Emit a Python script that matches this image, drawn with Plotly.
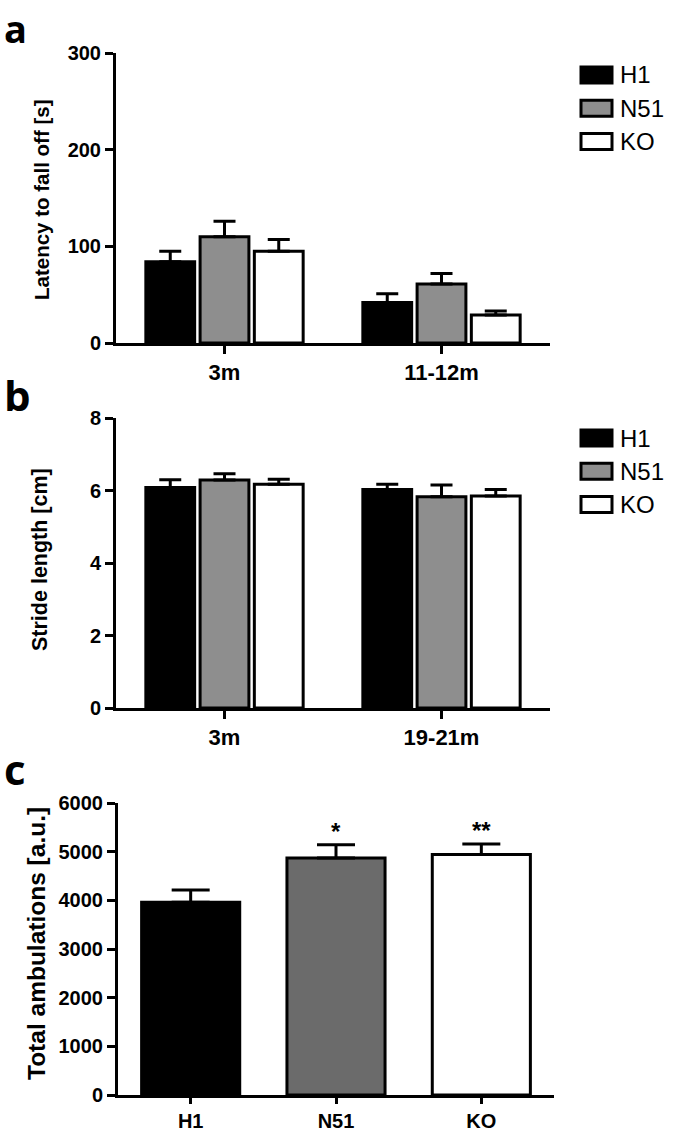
import plotly.graph_objects as go

W, H = 675, 1131

# ---------------- data ----------------
groups = ["H1", "N51", "KO"]

cats_a = ["3m", "11-12m"]
a_vals = {"H1": [84, 42], "N51": [110, 61], "KO": [95, 29]}
a_err = {"H1": [11, 9], "N51": [16, 11], "KO": [12, 4]}

cats_b = ["3m", "19-21m"]
b_vals = {"H1": [6.08, 6.03], "N51": [6.29, 5.83], "KO": [6.17, 5.85]}
b_err = {"H1": [0.22, 0.14], "N51": [0.17, 0.32], "KO": [0.14, 0.18]}

cats_c = ["H1", "N51", "KO"]
c_vals = [3960, 4870, 4940]
c_err = [250, 270, 220]
c_stars = ["", "*", "**"]

colors_ab = {"H1": "#000000", "N51": "#8e8e8e", "KO": "#ffffff"}
colors_c = ["#000000", "#6b6b6b", "#ffffff"]

FONT = "Liberation Sans, Arial, sans-serif"


def px(x):
    return x / W


def py(y):
    return 1 - y / H


fig = go.Figure()

for g in groups:
    fig.add_trace(go.Bar(
        x=cats_a, y=a_vals[g], name=g, xaxis="x", yaxis="y",
        marker=dict(color=colors_ab[g], line=dict(color="black", width=3)),
        error_y=dict(type="data", array=a_err[g], arrayminus=[0] * len(cats_a),
                     symmetric=False, color="black", thickness=3, width=11),
        showlegend=False,
    ))
for g in groups:
    fig.add_trace(go.Bar(
        x=cats_b, y=b_vals[g], name=g, xaxis="x2", yaxis="y2",
        marker=dict(color=colors_ab[g], line=dict(color="black", width=3)),
        error_y=dict(type="data", array=b_err[g], arrayminus=[0] * len(cats_b),
                     symmetric=False, color="black", thickness=3, width=11),
        showlegend=False,
    ))
fig.add_trace(go.Bar(
    x=cats_c, y=c_vals, xaxis="x3", yaxis="y3",
    marker=dict(color=colors_c, line=dict(color="black", width=3)),
    error_y=dict(type="data", array=c_err, arrayminus=[0] * len(cats_c),
                 symmetric=False, color="black", thickness=3, width=19),
    showlegend=False,
))

axis_common = dict(showline=True, linewidth=3, linecolor="black", ticks="outside",
                   tickwidth=3, tickcolor="black", showgrid=False,
                   zeroline=False, mirror=False, automargin=False)
xfont = dict(family=FONT, size=22, color="black", weight="bold")
yfont = dict(family=FONT, size=20, color="black", weight="bold")

fig.update_layout(
    width=W, height=H,
    margin=dict(l=0, r=0, t=0, b=0, pad=0, autoexpand=False),
    paper_bgcolor="white", plot_bgcolor="white",
    barmode="group", bargap=0.25, bargroupgap=0.1,
    font=dict(family=FONT, color="black"),
    xaxis=dict(domain=[px(116), px(550)], anchor="y", tickfont=xfont, ticklen=8,
               **axis_common),
    yaxis=dict(domain=[py(343), py(53)], anchor="x", range=[0, 300], dtick=100,
               tickfont=yfont, ticklen=8, **axis_common),
    xaxis2=dict(domain=[px(116), px(550)], anchor="y2", tickfont=xfont, ticklen=8,
                **axis_common),
    yaxis2=dict(domain=[py(708), py(418)], anchor="x2", range=[0, 8], dtick=2,
                tickfont=yfont, ticklen=8, **axis_common),
    xaxis3=dict(domain=[px(118), px(554)], anchor="y3", ticklen=6,
                tickfont=dict(family=FONT, size=20, color="black", weight="bold"),
                **axis_common),
    yaxis3=dict(domain=[py(1095), py(803)], anchor="x3", range=[0, 6000], dtick=1000,
                ticklen=8,
                tickfont=dict(family=FONT, size=20, color="black", weight="bold"),
                **axis_common),
)

annotations = []
shapes = []

# panel letters
for letter, ytop, size in [("a", 0, 38), ("b", 364, 42), ("c", 738, 42)]:
    annotations.append(dict(text=letter, xref="paper", yref="paper", x=px(2), y=py(ytop),
                            xanchor="left", yanchor="top", showarrow=False,
                            font=dict(family="Open Sans", size=size, color="black",
                                      weight="bold")))

# y-axis titles
for txt, xc, yc, size in [("Latency to fall off [s]", 42, 200, 20.5),
                          ("Stride length [cm]", 40, 560, 21.5),
                          ("Total ambulations [a.u.]", 36, 944, 24.5)]:
    annotations.append(dict(text=txt, xref="paper", yref="paper", x=px(xc), y=py(yc),
                            xanchor="center", yanchor="middle", textangle=-90,
                            showarrow=False,
                            font=dict(family=FONT, size=size, color="black", weight="bold")))

# legends (panels a and b)
for top0 in [67, 430]:
    for i, g in enumerate(groups):
        y0 = top0 + i * 33.3
        shapes.append(dict(type="rect", xref="paper", yref="paper",
                           x0=px(581), x1=px(612), y0=py(y0), y1=py(y0 + 16),
                           fillcolor=colors_ab[g], line=dict(color="black", width=3)))
        annotations.append(dict(text=g, xref="paper", yref="paper", x=px(618), y=py(y0 + 8),
                                xanchor="left", yanchor="middle", showarrow=False,
                                font=dict(family=FONT, size=24, color="black")))

# significance stars (panel c)
for cat, v, e, s in zip(cats_c, c_vals, c_err, c_stars):
    if s:
        annotations.append(dict(text=s, xref="x3", yref="y3", x=cat, y=v + e,
                                xanchor="center", yanchor="bottom", yshift=-2,
                                showarrow=False,
                                font=dict(family=FONT, size=24, color="black", weight="bold")))

fig.update_layout(annotations=annotations, shapes=shapes)

fig.write_html("out.html", config={"displayModeBar": False},
               post_script="document.body.style.margin='0';document.body.style.overflow='hidden';")
